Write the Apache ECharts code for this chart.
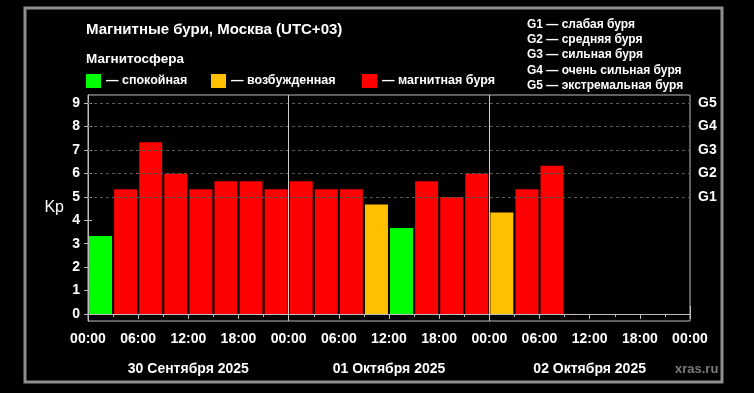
<!DOCTYPE html>
<html>
<head>
<meta charset="utf-8">
<script src="https://cdn.jsdelivr.net/npm/echarts@6/dist/echarts.min.js"></script>
<style>
html,body{margin:0;padding:0;background:#000;}
#chart{width:754px;height:393px;}
</style>
</head>
<body>
<div id="chart"></div>
<script>
// ---- data ----
const slotHours = [1.5, 4.5, 7.5, 10.5, 13.5, 16.5, 19.5, 22.5,
                   25.5, 28.5, 31.5, 34.5, 37.5, 40.5, 43.5, 46.5,
                   49.5, 52.5, 55.5];
const kpValues = [3.33, 5.33, 7.33, 6.0, 5.33, 5.67, 5.67, 5.33,
                  5.67, 5.33, 5.33, 4.67, 3.67, 5.67, 5.0, 6.0,
                  4.33, 5.33, 6.33];
const statuses = ['calm','storm','storm','storm','storm','storm','storm','storm',
                  'storm','storm','storm','active','calm','storm','storm','storm',
                  'active','storm','storm'];
const statusNames = { calm: '— спокойная', active: '— возбужденная', storm: '— магнитная буря' };
const statusColors = { calm: '#00ff00', active: '#ffc000', storm: '#ff0000' };
const hourLabels = ['00:00', '06:00', '12:00', '18:00'];
const dayLabels = ['30 Сентября 2025', '01 Октября 2025', '02 Октября 2025'];
const kpTicks = [0, 1, 2, 3, 4, 5, 6, 7, 8, 9];
const gLevels = [5, 6, 7, 8, 9];
const gLabels = ['G1', 'G2', 'G3', 'G4', 'G5'];
const gDescriptions = ['G1 — слабая буря', 'G2 — средняя буря', 'G3 — сильная буря',
                       'G4 — очень сильная буря', 'G5 — экстремальная буря'];
const title = 'Магнитные бури, Москва (UTC+03)';
const subtitle = 'Магнитосфера';

// ---- chart ----
const FONT = 'Liberation Sans, Arial, sans-serif';
const chart = echarts.init(document.getElementById('chart'), null, { renderer: 'canvas' });

function seriesFor(key) {
  const data = [];
  slotHours.forEach((h, i) => { if (statuses[i] === key) data.push([h, kpValues[i]]); });
  return {
    name: statusNames[key],
    type: 'bar',
    barWidth: 23,
    barGap: '-100%',
    z: 3,
    itemStyle: { color: statusColors[key] },
    data: data
  };
}

const legendText = { color: '#fff', fontSize: 12.5, fontWeight: 'bold', fontFamily: FONT };

const option = {
  backgroundColor: '#000',
  animation: false,
  textStyle: { fontFamily: FONT },
  graphic: [
    { type: 'rect', shape: { x: 25, y: 8, width: 697, height: 374 },
      style: { fill: 'none', stroke: '#8e8e8e', lineWidth: 3 }, z: 0 },
    { type: 'text', left: 675, top: 363,
      style: { text: 'xras.ru', fill: '#7a7a7a', font: 'bold 13px ' + FONT } }
  ],
  title: [
    { text: title, left: 81, top: 17,
      textStyle: { color: '#fff', fontSize: 15, fontWeight: 'bold', fontFamily: FONT } },
    { text: subtitle, left: 81, top: 47,
      textStyle: { color: '#fff', fontSize: 13.5, fontWeight: 'bold', fontFamily: FONT } },
    { text: gDescriptions.join('\n'), left: 522, top: 12,
      textStyle: { color: '#fff', fontSize: 12, fontWeight: 'bold', lineHeight: 15.25, fontFamily: FONT } }
  ],
  legend: [
    { data: [statusNames.calm], left: 81, top: 69, icon: 'rect', itemWidth: 15, itemHeight: 14, textStyle: legendText },
    { data: [statusNames.active], left: 206, top: 69, icon: 'rect', itemWidth: 15, itemHeight: 14, textStyle: legendText },
    { data: [statusNames.storm], left: 357, top: 69, icon: 'rect', itemWidth: 15, itemHeight: 14, textStyle: legendText }
  ],
  grid: { left: 88, right: 64, top: 95, bottom: 72, show: true, borderColor: '#bdbdbd', borderWidth: 1 },
  xAxis: [
    {
      type: 'value', min: 0, max: 72, interval: 6, position: 'bottom',
      axisLine: { show: true, lineStyle: { color: '#bdbdbd', width: 1 } },
      axisTick: { show: true, length: 5, lineStyle: { color: '#bdbdbd' } },
      minorTick: { show: true, splitNumber: 2, length: 3, lineStyle: { color: '#bdbdbd' } },
      splitLine: { show: false },
      axisLabel: {
        color: '#fff', fontSize: 14, fontWeight: 'bold', margin: 11, fontFamily: FONT,
        formatter: v => hourLabels[(v % 24) / 6]
      }
    },
    {
      type: 'value', min: 0, max: 72, position: 'bottom', offset: 37,
      axisLine: { show: true, lineStyle: { color: '#bdbdbd', width: 1 } },
      axisTick: { show: true, inside: true, length: 8, customValues: [0, 24, 48, 72],
                  lineStyle: { color: '#bdbdbd' } },
      splitLine: { show: false },
      axisLabel: {
        color: '#fff', fontSize: 14, fontWeight: 'bold', margin: 4, fontFamily: FONT,
        customValues: [12, 36, 60],
        formatter: v => dayLabels[Math.round((v - 12) / 24)]
      }
    }
  ],
  yAxis: [
    {
      type: 'value', min: -0.3, max: 9.35, position: 'left',
      name: 'Kp', nameLocation: 'middle', nameRotate: 0, nameGap: 24,
      nameTextStyle: { color: '#fff', fontSize: 16, fontFamily: FONT, padding: [4, 0, 0, 0] },
      axisLine: { show: true, lineStyle: { color: '#bdbdbd', width: 1 } },
      axisTick: { show: true, length: 4, customValues: kpTicks, lineStyle: { color: '#bdbdbd' } },
      splitLine: { show: false },
      axisLabel: {
        color: '#fff', fontSize: 14, fontWeight: 'bold', margin: 8, fontFamily: FONT,
        customValues: kpTicks, formatter: v => String(v)
      }
    },
    {
      type: 'value', min: -0.3, max: 9.35, position: 'right',
      axisLine: { show: true, lineStyle: { color: '#bdbdbd', width: 1 } },
      axisTick: { show: true, length: 4, customValues: kpTicks, lineStyle: { color: '#bdbdbd' } },
      splitLine: { show: false },
      axisLabel: {
        color: '#fff', fontSize: 14, fontWeight: 'bold', margin: 8, fontFamily: FONT,
        customValues: gLevels, formatter: v => gLabels[gLevels.indexOf(v)]
      }
    }
  ],
  series: [
    {
      name: 'grid', type: 'line', data: [], z: 1, silent: true,
      markLine: {
        silent: true, symbol: 'none', animation: false,
        label: { show: false },
        lineStyle: { color: '#5a5a5a', type: [3, 3], width: 1 },
        data: gLevels.map(v => ({ yAxis: v }))
      }
    },
    {
      name: 'days', type: 'line', data: [], z: 4, silent: true,
      markLine: {
        silent: true, symbol: 'none', animation: false,
        label: { show: false },
        lineStyle: { color: '#cfcfcf', type: 'solid', width: 1 },
        data: [{ xAxis: 24 }, { xAxis: 48 }]
      }
    },
    seriesFor('calm'),
    seriesFor('active'),
    seriesFor('storm')
  ]
};
chart.setOption(option);
</script>
</body>
</html>
